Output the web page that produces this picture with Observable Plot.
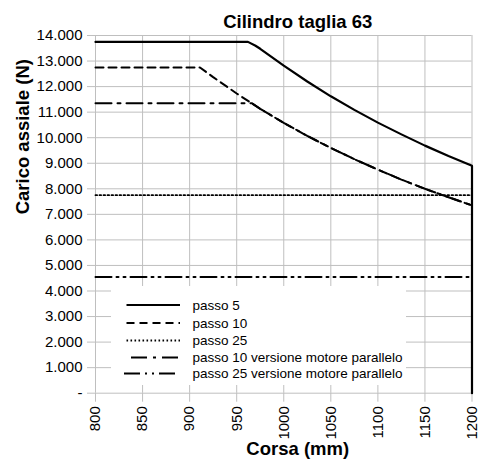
<!DOCTYPE html>
<html>
<head>
<meta charset="utf-8">
<script src="https://cdn.jsdelivr.net/npm/d3@7"></script>
<script src="https://cdn.jsdelivr.net/npm/@observablehq/plot@0.6"></script>
<style>
  body { margin: 0; background: #fff; }
  #wrap { position: relative; width: 486px; height: 460px; font-family: "Liberation Sans", Arial, sans-serif; }
  #legend { position: absolute; left: 111px; top: 286px; width: 295px; height: 99px; background: #fff; }
</style>
</head>
<body>
<div id="wrap"></div>
<script>
const title = "Cilindro taglia 63";
const xTitle = "Corsa (mm)";
const yTitle = "Carico assiale (N)";
const xTicks = [800, 850, 900, 950, 1000, 1050, 1100, 1150, 1200];
const yTicks = [0, 1000, 2000, 3000, 4000, 5000, 6000, 7000, 8000, 9000, 10000, 11000, 12000, 13000, 14000];

const seriesNames = ["passo 5", "passo 10", "passo 25", "passo 10 versione motore parallelo", "passo 25 versione motore parallelo"];

const passo5X = [800, 962, 970, 975, 1000, 1025, 1050, 1075, 1100, 1125, 1150, 1175, 1200, 1200];
const passo5Y = [13750, 13750, 13600, 13480, 12820, 12200, 11620, 11090, 10590, 10130, 9690, 9280, 8900, 0];

const passo10X = [800, 911, 925, 950, 975, 1000, 1025, 1050, 1075, 1100, 1125, 1150, 1175, 1200];
const passo10Y = [12750, 12750, 12370, 11730, 11130, 10580, 10070, 9600, 9160, 8750, 8360, 8000, 7670, 7350];

const passo25X = [800, 1200];
const passo25Y = [7750, 7750];

const passo10parX = [800, 966, 975, 1000, 1025, 1050, 1075, 1100, 1125, 1150, 1175, 1200];
const passo10parY = [11350, 11350, 11130, 10580, 10070, 9600, 9160, 8750, 8360, 8000, 7670, 7350];

const passo25parX = [800, 1200];
const passo25parY = [4550, 4550];

const styles = [
  {dash: null, width: 2.2},
  {dash: "8,5", width: 2},
  {dash: "1.6,2.4", width: 1.8},
  {dash: "16,6,3,6", width: 2},
  {dash: "16,5,2,5,2,5", width: 2}
];

const xs = [passo5X, passo10X, passo25X, passo10parX, passo25parX];
const ys = [passo5Y, passo10Y, passo25Y, passo10parY, passo25parY];
const series = seriesNames.map((name, i) => xs[i].map((x, j) => ({name, x, y: ys[i][j]})));

const grey = "#bfbfbf";
const fmtY = d => d === 0 ? "-" : d3.format(",")(d).replace(/,/g, ".");

const lineMarks = series.map((data, i) => Plot.line(data, {
  x: "x", y: "y", stroke: "#000", strokeWidth: styles[i].width,
  strokeDasharray: styles[i].dash ?? undefined, strokeLinejoin: "round"
}));

const chart = Plot.plot({
  width: 486,
  height: 460,
  marginLeft: 95,
  marginRight: 14.5,
  marginTop: 35,
  marginBottom: 67.3,
  style: {fontFamily: '"Liberation Sans", Arial, sans-serif', fontSize: "15px", color: "#000", background: "#fff"},
  x: {domain: [800, 1200]},
  y: {domain: [0, 14000]},
  marks: [
    Plot.gridX(xTicks, {stroke: grey, strokeOpacity: 1, strokeWidth: 1}),
    Plot.gridY(yTicks, {stroke: grey, strokeOpacity: 1, strokeWidth: 1}),
    Plot.axisX(xTicks, {tickSize: 9, tickPadding: 4, tickRotate: -90, stroke: grey, fill: "#000", fontSize: 15, label: null, tickFormat: d => String(d)}),
    Plot.axisY(yTicks, {tickSize: 8, tickPadding: 5, stroke: grey, fill: "#000", fontSize: 15, label: null, tickFormat: fmtY}),
    ...lineMarks,
    Plot.text([title], {frameAnchor: "top", lineAnchor: "bottom", dx: 14, dy: -8, fontWeight: "bold", fontSize: 18.5, fill: "#000"}),
    Plot.text([xTitle], {frameAnchor: "bottom", lineAnchor: "bottom", dx: 14, dy: 62, fontWeight: "bold", fontSize: 18.5, fill: "#000"}),
    Plot.text([yTitle], {frameAnchor: "left", lineAnchor: "bottom", rotate: -90, dx: -67, dy: 0, fontWeight: "bold", fontSize: 18.5, fill: "#000"})
  ]
});

const wrap = document.getElementById("wrap");
wrap.appendChild(chart);

// Legend overlay
const legend = document.createElement("div");
legend.id = "legend";
wrap.appendChild(legend);
const lsvg = d3.select(legend).append("svg").attr("width", 295).attr("height", 99);
const rowY = [19, 37, 54.5, 71.5, 87.5];
seriesNames.forEach((name, i) => {
  const g = lsvg.append("g").attr("transform", `translate(0,${rowY[i]})`);
  g.append("line").attr("x1", i >= 3 ? (i === 3 ? 20 : 13) : 15.5).attr("x2", 69).attr("y1", 0).attr("y2", 0)
    .attr("stroke", "#000").attr("stroke-width", styles[i].width)
    .attr("stroke-dasharray", styles[i].dash);
  g.append("text").attr("x", 81.5).attr("y", 0).attr("dy", "0.35em")
    .attr("font-family", '"Liberation Sans", Arial, sans-serif').attr("font-size", 13.5).attr("fill", "#000")
    .text(name);
});
</script>
</body>
</html>
